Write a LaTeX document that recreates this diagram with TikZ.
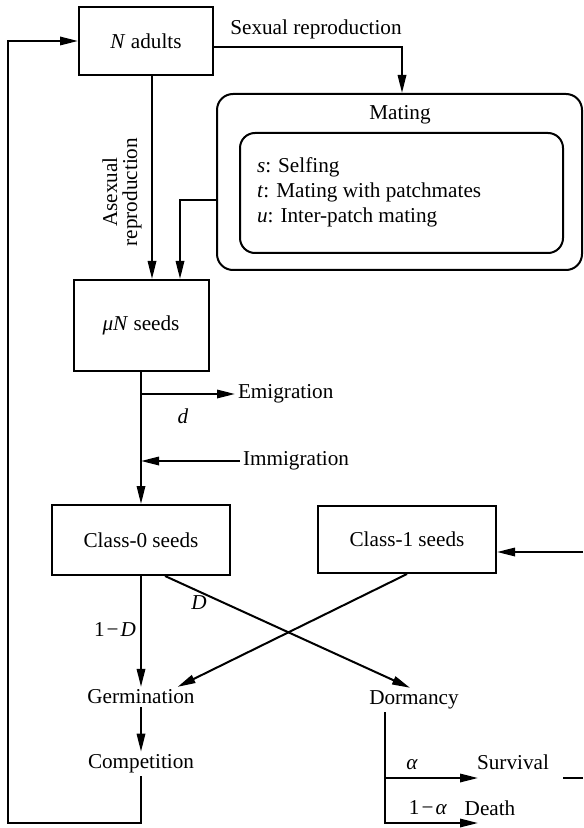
\documentclass[tikz,border=0pt]{standalone}
\usepackage{fontspec}
\setmainfont{Liberation Serif}
\usetikzlibrary{arrows.meta, positioning}

\begin{document}
\begin{tikzpicture}[x=0.5pt, y=-0.5pt, line width=1pt,
  every node/.style={font=\fontsize{10.6}{12.5}\selectfont, inner sep=1pt},
  box/.style={draw, rectangle, minimum width=67pt, minimum height=34pt},
  seedbox/.style={draw, rectangle, minimum width=89pt, minimum height=35pt},
  outerbox/.style={draw, rounded corners=8pt},
  innerbox/.style={draw, rounded corners=7.5pt},
  flow/.style={-{Triangle[length=9pt, width=4.2pt]}},
  tag/.style={inner sep=0pt},
]
  \useasboundingbox (0,0) rectangle (583,828);

% Boxes
  \node[box] (adults) at (146,41) {\textit{N} adults};
  \node[outerbox, minimum width=182.5pt, minimum height=88pt] (mating) at (399.5,182) {};
  \node (mating-title) at (400,115) {Mating};
  \node[innerbox, minimum width=161.5pt, minimum height=60pt] (options) at (401.5,193) {};
  \node[anchor=west, align=left] (options-text) at (254,192)
    {\textit{s}: Selfing\\ \textit{t}: Mating with patchmates\\ \textit{u}: Inter-patch mating};
  \node[box, minimum width=67.5pt, minimum height=45.5pt] (seeds) at (141,325.5) {\textit{μN} seeds};
  \node[seedbox] (class0) at (141,540) {Class-0 seeds};
  \node[seedbox, minimum height=33.5pt] (class1) at (407,539.5) {Class-1 seeds};

% Stages
  \node (germ) at (141,697) {Germination};
  \node (comp) at (141,764) {Competition};
  \node (dorm) at (414,700) {Dormancy};
  \node (surv) at (513,762) {Survival};
  \node (death) at (490,808) {Death};
  \node[anchor=west] (emig) at (235,394) {Emigration};
  \node[anchor=west] (immig) at (240,461) {Immigration};

% Labels
  \node[tag] (sex-label) at (316,29) {Sexual reproduction};
  \node[tag, rotate=90, align=center, font=\fontsize{10.6}{10}\selectfont] (asex-label) at (122,192) {Asexual\\reproduction};
  \node[tag] (d-label) at (183,416) {\textit{d}};
  \node[tag] (D-label) at (199,603) {\textit{D}};
  \node[tag] (notD-label) at (115,630) {1\kern1pt−\kern1pt\textit{D}};
  \node[tag] (alpha-label) at (412,765) {\textit{α}};
  \node[tag] (notalpha-label) at (428,808) {1\kern1pt−\kern1pt\textit{α}};

% Turning points
  \coordinate (sex-turn) at (402,47);
  \coordinate (mat-turn) at (180,200);
  \coordinate (asex) at (152,75);
  \coordinate (loop-bottom) at (8,823);
  \coordinate (dorm-leg) at (385,778);
  \coordinate (surv-tip) at (478,778);
  \coordinate (death-tip) at (478,823);
  \coordinate (stub) at (563,778);
  \coordinate (wrap-out) at (583,778);
  \coordinate (wrap-in) at (583,552);

% Reproduction
  \draw[flow] (adults.east |- sex-turn) -- (sex-turn) -- (sex-turn |- mating.north);
  \draw[flow] (asex) -- (asex |- seeds.north);
  \draw[flow] (mating.west |- mat-turn) -- (mat-turn) -- (mat-turn |- seeds.north);

% Dispersal
  \draw[flow] (seeds.south) -- (class0.north);
  \draw[flow] (emig.west -| seeds.south) -- (emig.west);
  \draw[flow] (immig.west) -- (immig.west -| seeds.south);

% Germination and dormancy
  \draw[flow] (class0.south) -- (germ.north);
  \draw[flow] ([xshift=12pt]class0.south) -- ([xshift=-2pt]dorm.north);
  \draw[flow] (class1.south) -- ([xshift=-10pt]germ.north east);
  \draw[flow] (germ.south) -- (comp.north);
  \draw[flow] (comp.south) |- (loop-bottom) |- (adults.west);

% Survival of dormant seeds
  \draw[flow] (dorm.south -| dorm-leg) |- (death-tip);
  \draw[flow] (dorm-leg) -- (surv-tip);
  \draw (stub) -- (wrap-out);
  \draw[flow] (wrap-in) -- (wrap-in -| class1.east);
\end{tikzpicture}
\end{document}
